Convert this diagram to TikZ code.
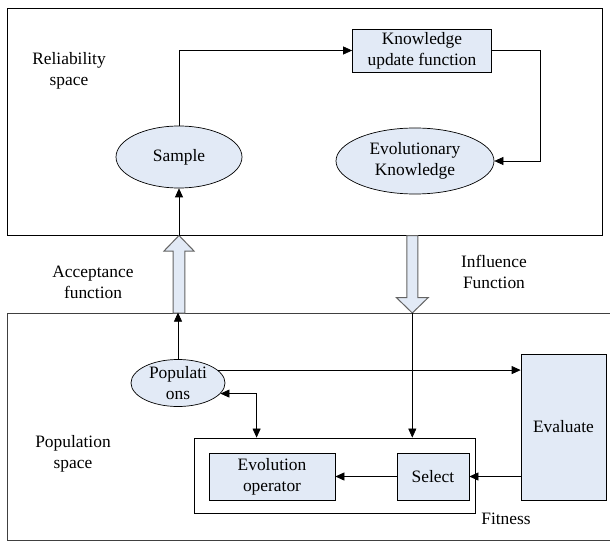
\documentclass[tikz,border=0pt]{standalone}
\usepackage{fontspec}
\setmainfont{Liberation Serif}
\usetikzlibrary{shapes.geometric,arrows.meta,calc}
\definecolor{fillblue}{RGB}{226,234,246}
\definecolor{hollowedge}{RGB}{100,100,100}
\tikzset{
  txt/.style={font=\fontsize{17.4bp}{21bp}\selectfont, align=center, inner sep=0pt},
  ell/.style={txt, ellipse, draw=black, fill=fillblue, line width=0.7bp},
  blk/.style={txt, rectangle, draw=black, fill=fillblue, line width=0.7bp},
  frame/.style={draw=black, line width=0.8bp},
  arr/.style={line width=0.7bp, -{Triangle[length=9bp,width=8bp]}},
  darr/.style={line width=0.7bp, {Triangle[length=9bp,width=8bp]}-{Triangle[length=9bp,width=8bp]}},
  hollow/.style={draw=hollowedge, fill=fillblue, line width=1bp, line join=miter},
}
\begin{document}
\begin{tikzpicture}[x=1bp,y=-1bp]
\useasboundingbox (0,0) rectangle (610,541);
\fill[white] (0,0) rectangle (610,541);

% outer spaces
\node[frame, rectangle, minimum width=595bp, minimum height=227bp, inner sep=0pt] (top) at (304.5,121.5) {};
\node[frame, rectangle, minimum width=610bp, minimum height=227bp, inner sep=0pt, draw=black!75] (bot) at (312,426.5) {};

% top nodes
\node[blk, minimum width=139bp, minimum height=43bp] (kuf) at (422,50.5) {Knowledge\\update function};
\node[ell, minimum width=126bp, minimum height=62bp] (sample) at (179,157) {Sample};
\node[ell, minimum width=158bp, minimum height=66bp] (evk) at (415,161) {Evolutionary\\Knowledge};
\node[txt] (rel) at (69,71) {Reliability\\space};

% labels between
\node[txt] (acc) at (93,282) {Acceptance\\function};
\node[txt] (inf) at (494,272) {Influence\\Function};

% bottom nodes
\node[ell, minimum width=94bp, minimum height=46bp] (pop) at (178,383) {Populati\\ons};
\node[blk, minimum width=85bp, minimum height=146bp] (eval) at (563.5,427) {Evaluate};
\node[frame, rectangle, minimum width=281bp, minimum height=75bp, inner sep=0pt] (fit) at (334.5,475.5) {};
\node[blk, minimum width=126bp, minimum height=47bp] (evo) at (272,476.5) {Evolution\\operator};
\node[blk, minimum width=72bp, minimum height=47bp] (sel) at (433,476.5) {Select};
\node[txt] (popsp) at (73,454) {Population\\space};
\node[txt] (fitl) at (506,519) {Fitness};

% hollow arrows
\coordinate (accTip) at (179,235.5);
\coordinate (infTip) at (412.3,313);
\draw[hollow] (accTip) -- ++(15,15.5) -- ++(-9.2,0) -- ++(0,62) -- ++(-11.6,0) -- ++(0,-62) -- ++(-9.2,0) -- cycle;
\draw[hollow] (infTip) -- ++(16,-15.5) -- ++(-10.5,0) -- ++(0,-62) -- ++(-11,0) -- ++(0,62) -- ++(-10.5,0) -- cycle;

% top connectors
\draw[arr] (sample.north) |- (kuf.west);
\draw[arr] (kuf.east) -- ++(48,0) |- (evk.east);
\draw[arr] (accTip) -- (sample.south);

% bottom connectors
\draw[arr] (pop.north) -- (pop.north |- bot.north);
\draw[arr] (pop.18) -- (pop.18 -| eval.west);
\draw[darr] (pop.-14) -| ([xshift=63bp]fit.north west);
\draw[arr] (infTip) -- (infTip |- fit.north);
\draw[arr] (sel.west) -- (evo.east);
\draw[arr] (eval.west |- sel.east) -- (sel.east);
\end{tikzpicture}
\end{document}
